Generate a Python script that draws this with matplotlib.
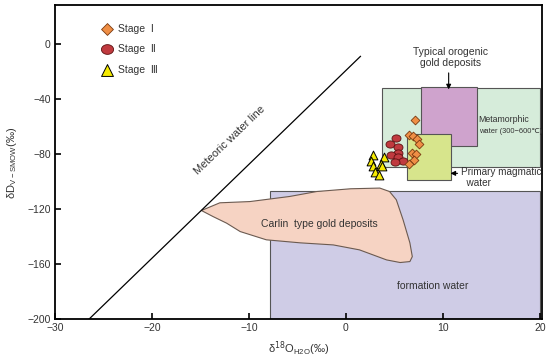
import matplotlib
matplotlib.use("Agg")
import matplotlib.pyplot as plt
from matplotlib.patches import Rectangle, Polygon
from matplotlib.path import Path
import numpy as np

plt.rcParams["font.family"] = ["Liberation Sans", "DejaVu Sans", "Noto Sans CJK SC"]

# stage I / II / III fluid compositions (d18O_H2O, dD)
stage1_x = [7.1, 6.5, 6.9, 7.3, 7.5, 6.8, 7.2, 7.0, 6.5]
stage1_y = [-55, -66, -67, -69, -73, -79, -80, -84, -87]
stage2_x = [5.2, 4.6, 5.4, 5.4, 4.7, 5.4, 5.9, 5.1]
stage2_y = [-68, -73, -75, -79, -81, -82, -85, -86]
stage3_x = [2.8, 3.9, 2.6, 3.6, 2.8, 3.7, 3.0, 3.4]
stage3_y = [-81, -82, -85, -87, -89, -89, -93, -95]

# fields: (x0, x1, y0, y1)
formation = (-7.8, 20.0, -200, -107)
metamorphic = (3.7, 20.0, -89.5, -32)
orogenic = (7.7, 13.5, -74, -31)
magmatic = (6.35, 10.8, -99, -65.5)

# Carlin-type outline
carlin_x = [-14.9, -13.0, -9.9, -5.8, -3.0, 0.5, 3.5, 4.5, 5.2, 5.9, 6.6, 6.85,
            6.6, 5.6, 4.2, 1.4, -1.3, -4.7, -8.2, -10.9, -12.3, -13.7]
carlin_y = [-121, -115.4, -114.5, -110.8, -107.2, -105.2, -104.7, -107.2, -113.2,
            -127.8, -144.5, -154.5, -158.1, -158.8, -156.9, -149.6, -146.0, -144.5,
            -142.3, -136.3, -130.2, -125.4]

# meteoric water line end points
mwl_x = [-26.5, 1.5]
mwl_y = [-200, -9]

fig = plt.figure(figsize=(5.5, 3.64), dpi=100)
ax = fig.add_axes([0.1, 0.123, 0.885, 0.862])

def box(f, color, z):
    ax.add_patch(Rectangle((f[0], f[2]), f[1] - f[0], f[3] - f[2], facecolor=color,
                           edgecolor="#555555", lw=0.8, zorder=z))

box(formation, "#cfcce6", 1)
ax.add_patch(Polygon(np.column_stack([carlin_x, carlin_y]), closed=True,
                     facecolor="#f6d3c3", edgecolor="#6b5a50", lw=0.8, zorder=2))
box(metamorphic, "#d6ecda", 3)
box(orogenic, "#cfa3cd", 4)
box(magmatic, "#d7e58c", 5)

ax.plot(mwl_x, mwl_y, color="black", lw=0.9, zorder=3)

# slightly flattened ellipse marker
t = np.linspace(0, 2 * np.pi, 40)
ellipse = Path(np.column_stack([np.cos(t), 0.8 * np.sin(t)]), closed=True)

ax.scatter(stage1_x, stage1_y, marker="D", s=20, facecolor="#ef8e45",
           edgecolor="#7a3a10", lw=0.6, zorder=8, label="Stage  Ⅰ")
ax.scatter(stage2_x, stage2_y, marker=ellipse, s=42, facecolor="#c03a3f",
           edgecolor="#5a1010", lw=0.6, zorder=7, label="Stage  Ⅱ")
ax.scatter(stage3_x, stage3_y, marker="^", s=40, facecolor="#f5ea00",
           edgecolor="black", lw=0.7, zorder=6, label="Stage  Ⅲ")

leg = ax.legend(loc="upper left", bbox_to_anchor=(0.07, 0.965), frameon=False,
                fontsize=7.5, labelspacing=1.0, handletextpad=0.1, borderpad=0.2,
                markerscale=1.35)
for txt in leg.get_texts():
    txt.set_color("#333333")

tc = "#333333"
ax.text(-12.0, -70, "Meteoric water line", rotation=44, fontsize=8, color=tc,
        ha="center", va="center", rotation_mode="anchor")
ax.text(-2.7, -131, "Carlin  type gold deposits", fontsize=7.5, color=tc,
        ha="center", va="center", zorder=9)
ax.text(9.0, -176, "formation water", fontsize=7.5, color=tc, ha="center", va="center")
ax.text(13.7, -55, "Metamorphic", fontsize=6.3, color=tc, ha="left", va="center", zorder=9)
ax.text(13.7, -63.6, "water (300−600℃)", fontsize=5.4, color=tc, ha="left", va="center", zorder=9)
ax.text(10.8, -10, "Typical orogenic\ngold deposits", fontsize=7.5, color=tc,
        ha="center", va="center", linespacing=1.1)
ax.annotate("", xy=(10.6, -35), xytext=(10.6, -19),
            arrowprops=dict(arrowstyle="-|>", color="black", lw=0.8, mutation_scale=7),
            zorder=9)
ax.text(11.9, -89.5, "Primary magmatic\n  water", fontsize=7.2, color=tc,
        ha="left", va="top", linespacing=1.1)
ax.annotate("", xy=(10.5, -94), xytext=(11.8, -94),
            arrowprops=dict(arrowstyle="-|>", color="black", lw=0.8, mutation_scale=7),
            zorder=9)

ax.set_xlim(-30, 20.2)
ax.set_ylim(-200, 28)
ax.set_xticks([-30, -20, -10, 0, 10, 20])
ax.set_yticks([-200, -160, -120, -80, -40, 0])
ax.set_xticklabels(["−30", "−20", "−10", "0", "10", "20"])
ax.set_yticklabels(["−200", "−160", "−120", "−80", "−40", "0"])
ax.tick_params(direction="in", length=4, width=1.2, labelsize=7.5, labelcolor=tc, pad=3)
for sp in ax.spines.values():
    sp.set_linewidth(1.3)

ax.set_xlabel(r"δ$^{18}$O$_{\mathregular{H2O}}$(‰)", fontsize=8, color=tc, labelpad=4)
ax.set_ylabel(r"δD$_{\mathregular{V-SMOW}}$(‰)", fontsize=8, color=tc, labelpad=6)

fig.savefig("out.png", dpi=100)
